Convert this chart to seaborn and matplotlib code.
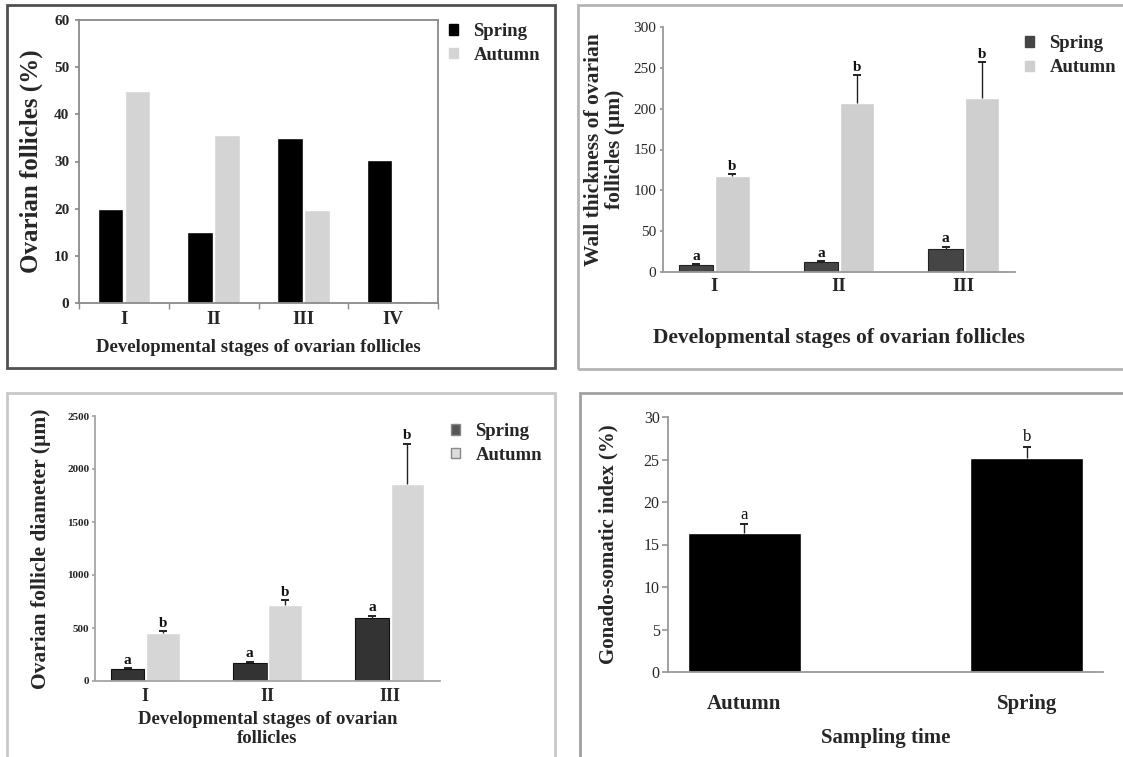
import numpy as np
import pandas as pd
import matplotlib
matplotlib.use('Agg')
import matplotlib.pyplot as plt
from matplotlib.patches import Rectangle, Patch
import matplotlib.ticker as ticker
import seaborn as sns

sns.set_theme(style='ticks')
plt.rcParams['font.family'] = ['Liberation Serif', 'DejaVu Serif']

seasons = ['Spring', 'Autumn']

# A: percentage of follicles per developmental stage
stages4 = ['I', 'II', 'III', 'IV']
pct_spring = [20, 15, 35, 30.3]
pct_autumn = [45, 35.7, 19.8, 0.4]

# B: wall thickness of follicles (um)
stages3 = ['I', 'II', 'III']
wall_spring = [8.5, 12, 28]
wall_spring_err = [1, 1.5, 3]
wall_autumn = [117, 207, 213]
wall_autumn_err = [3, 34, 44]

# C: follicle diameter (um)
diam_spring = [110, 170, 590]
diam_spring_err = [10, 12, 25]
diam_autumn = [450, 720, 1860]
diam_autumn_err = [20, 40, 380]

# D: gonado-somatic index
gsi_time = ['Autumn', 'Spring']
gsi_value = [16.4, 25.2]
gsi_err = [1.0, 1.3]
gsi_letters = ['a', 'b']

W, H = 1123, 757
fig = plt.figure(figsize=(W / 100, H / 100), dpi=100)


def place(l, t, r, b):
    return fig.add_axes([l / W, 1 - b / H, (r - l) / W, (b - t) / H])


def frame(l, t, r, b, color):
    fig.patches.append(Rectangle((l / W, 1 - b / H), (r - l) / W, (b - t) / H,
                                 transform=fig.transFigure, fill=False,
                                 edgecolor=color, lw=2))


def grouped(ax, stages, spring, autumn, colors, width, edge=None):
    df = pd.DataFrame({'stage': stages * 2,
                       'season': ['Spring'] * len(stages) + ['Autumn'] * len(stages),
                       'value': spring + autumn})
    sns.barplot(data=df, x='stage', y='value', hue='season', hue_order=seasons,
                palette=colors, width=width, gap=0.05, saturation=1,
                errorbar=None, legend=False, ax=ax)
    if edge is not None:
        for bar in ax.containers[0]:
            bar.set_edgecolor(edge)
            bar.set_linewidth(0.8)


def add_errors(ax, errs, letters, color='#222', bold=True, size=11):
    # one-sided (upper) error bars with a cap, letter on top
    for cont, err, lets in zip(list(ax.containers), errs, letters):
        xs = np.array([b.get_x() + b.get_width() / 2 for b in cont])
        hs = np.array([b.get_height() for b in cont])
        tops = hs + np.array(err)
        ax.vlines(xs, hs, tops, color=color, lw=1)
        ax.plot(xs, tops, ls='none', marker='_', ms=6, mew=1.4, color=color)
        for x, t, let in zip(xs, tops, lets):
            ax.annotate(let, (x, t), xytext=(0, 1), textcoords='offset points',
                        ha='center', va='bottom', fontsize=size,
                        fontweight='bold' if bold else 'normal', color='#111')


def add_legend(ax, colors, x, y, edge=None, spacing=0.3):
    handles = [Patch(facecolor=c, edgecolor=edge if edge else c, label=s)
               for c, s in zip(colors, seasons)]
    ax.legend(handles=handles, loc='upper left', bbox_to_anchor=(x / W, 1 - y / H),
              bbox_transform=fig.transFigure, frameon=False,
              prop={'weight': 'bold', 'size': 13.5}, handlelength=0.5,
              handleheight=0.5, handletextpad=0.8, labelspacing=spacing,
              borderpad=0, borderaxespad=0)


def style(ax, spine_color, sides=('left', 'bottom')):
    for s in ['left', 'right', 'top', 'bottom']:
        ax.spines[s].set_visible(s in sides)
        ax.spines[s].set_color(spine_color)
        ax.spines[s].set_linewidth(1.3)
    ax.set_facecolor('white')


# ---------- panel A ----------
frame(7, 5, 555, 368, '#505050')
ax1 = place(79, 20, 438, 303)
grouped(ax1, stages4, pct_spring, pct_autumn, ['#000000', '#d4d4d4'], 0.6)
ax1.containers[1][3].set_facecolor('#333333')
style(ax1, '#8a8a8a', sides=('left', 'bottom', 'top', 'right'))
ax1.set_ylim(0, 60)
ax1.yaxis.set_major_locator(ticker.MultipleLocator(10))
ax1.xaxis.set_minor_locator(ticker.FixedLocator(np.arange(-0.5, 4, 1)))
ax1.tick_params(axis='x', which='major', length=0, pad=6, labelsize=13.5)
ax1.tick_params(axis='x', which='minor', length=4, color='#8a8a8a')
ax1.tick_params(axis='y', length=3, color='#8a8a8a', pad=4, labelsize=11)
for lab in ax1.get_xticklabels() + ax1.get_yticklabels():
    lab.set_fontweight('bold')
ax1.set_xlabel('Developmental stages of ovarian follicles', fontsize=13.5,
               fontweight='bold', labelpad=8)
ax1.set_ylabel('Ovarian follicles (%)', fontsize=18, fontweight='bold', labelpad=8)
add_legend(ax1, ['#000000', '#d4d4d4'], 449, 23, spacing=0.35)

# ---------- panel B ----------
frame(578, 5, 1140, 369, '#b4b4b4')
ax2 = place(663, 27, 1015, 272)
grouped(ax2, stages3, wall_spring, wall_autumn, ['#454545', '#cfcfcf'], 0.58, edge='#222')
style(ax2, '#999999')
ax2.set_ylim(0, 300)
ax2.yaxis.set_major_locator(ticker.MultipleLocator(50))
ax2.tick_params(axis='x', length=0, pad=4, labelsize=13.5)
ax2.tick_params(axis='y', length=2, color='#999999', pad=3, labelsize=11)
for lab in ax2.get_xticklabels():
    lab.set_fontweight('bold')
add_errors(ax2, [wall_spring_err, wall_autumn_err], [['a'] * 3, ['b'] * 3])
ax2.set_xlabel('Developmental stages of ovarian follicles', fontsize=15.5,
               fontweight='bold', labelpad=24)
ax2.set_ylabel('Wall thickness of ovarian\nfollicles (µm)', fontsize=15.5,
               fontweight='bold', labelpad=6, linespacing=1.05)
add_legend(ax2, ['#454545', '#cfcfcf'], 1025, 35, spacing=0.4)

# ---------- panel C ----------
frame(7, 393, 555, 770, '#c8c8c8')
ax3 = place(95, 416, 440, 681)
grouped(ax3, stages3, diam_spring, diam_autumn, ['#333333', '#d6d6d6'], 0.58, edge='#111')
style(ax3, '#a5a5a5')
ax3.set_ylim(0, 2500)
ax3.yaxis.set_major_locator(ticker.MultipleLocator(500))
ax3.tick_params(axis='x', length=0, pad=5, labelsize=13)
ax3.tick_params(axis='y', length=2, color='#a5a5a5', pad=2, labelsize=8)
for lab in ax3.get_xticklabels() + ax3.get_yticklabels():
    lab.set_fontweight('bold')
add_errors(ax3, [diam_spring_err, diam_autumn_err], [['a'] * 3, ['b'] * 3])
ax3.set_xlabel('Developmental stages of ovarian\nfollicles', fontsize=13.5,
               fontweight='bold', labelpad=4, linespacing=1.2)
ax3.set_ylabel('Ovarian follicle diameter (µm)', fontsize=15.5, fontweight='bold',
               labelpad=12)
add_legend(ax3, ['#555555', '#dcdcdc'], 451, 423, edge='#888888', spacing=0.35)

# ---------- panel D ----------
frame(580, 393, 1140, 770, '#a0a0a0')
ax4 = place(668, 417, 1103, 672)
sns.barplot(x=gsi_time, y=gsi_value, color='black', width=0.4, saturation=1,
            errorbar=None, ax=ax4)
style(ax4, '#999999')
ax4.set_ylim(0, 30)
ax4.yaxis.set_major_locator(ticker.MultipleLocator(5))
ax4.tick_params(axis='x', length=0, pad=16, labelsize=15)
ax4.tick_params(axis='y', length=4, color='#999999', pad=2, labelsize=11.5)
for lab in ax4.get_xticklabels():
    lab.set_fontweight('bold')
add_errors(ax4, [gsi_err], [gsi_letters], bold=False, size=12)
ax4.set_xlabel('Sampling time', fontsize=15, fontweight='bold', labelpad=10)
ax4.set_ylabel('Gonado-somatic index (%)', fontsize=15, fontweight='bold', labelpad=18)

fig.savefig('out.png', dpi=100)
